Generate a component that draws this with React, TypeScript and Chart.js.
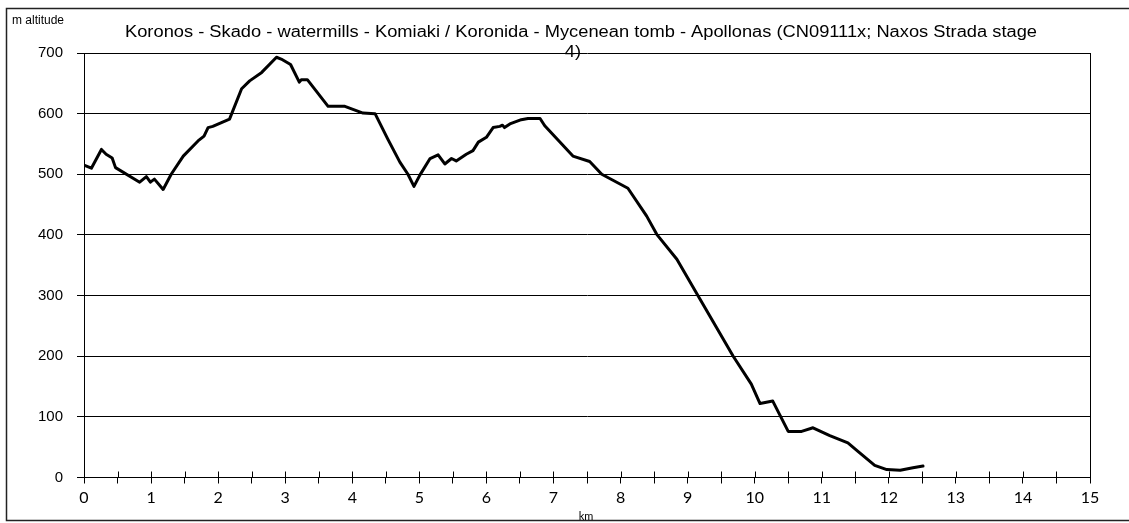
import React, { useEffect, useRef } from "react";
import { Chart, registerables } from "chart.js";

Chart.register(...registerables);

const titleLine1 =
  "Koronos - Skado - watermills - Komiaki / Koronida - Mycenean tomb - Apollonas (CN09111x; Naxos Strada stage";
const titleLine2 = "4)";
const yAxisTitle = "m altitude";
const xAxisTitle = "km";

const distanceKm = [
  0, 0.11, 0.26, 0.33, 0.42, 0.47, 0.83, 0.93, 0.99, 1.05, 1.18, 1.3, 1.48, 1.7, 1.79, 1.85, 1.92,
  2.17, 2.35, 2.47, 2.65, 2.87, 2.94, 3.08, 3.21, 3.24, 3.33, 3.64, 3.89, 4.16, 4.34, 4.53, 4.71,
  4.83, 4.92, 5.01, 5.16, 5.28, 5.38, 5.48, 5.55, 5.7, 5.8, 5.88, 6.0, 6.1, 6.2, 6.24, 6.27, 6.35,
  6.52, 6.62, 6.8, 6.87, 7.29, 7.54, 7.72, 8.11, 8.39, 8.54, 8.84, 9.16, 9.68, 9.95, 10.08, 10.27,
  10.5, 10.7, 10.87, 11.12, 11.39, 11.54, 11.79, 11.97, 12.17, 12.36, 12.51,
];
const altitudeM = [
  515, 510, 541, 533, 527, 511, 487, 496, 487, 492, 475, 500, 530, 555, 563, 577, 579,
  591, 641, 654, 668, 693, 690, 681, 652, 656, 656, 612, 612, 601, 600, 558, 520,
  500, 480, 499, 526, 532, 517, 526, 522, 533, 539, 553, 561, 577, 579, 581, 577, 583,
  590, 592, 592, 580, 530, 521, 500, 477, 431, 401, 360, 299, 200, 154, 122, 126,
  76, 76, 82, 69, 57, 43, 20, 13, 12, 16, 19,
];

const xMin = 0;
const xMax = 15;
const xStep = 0.5;
const yMin = 0;
const yMax = 700;
const yStep = 100;

const W = 1129;
const H = 523;

const decorPlugin = {
  id: "decor",
  afterDraw(chart: any) {
    const ctx = chart.ctx as CanvasRenderingContext2D;
    const area = chart.chartArea;
    const xs = chart.scales.x;
    ctx.save();
    ctx.strokeStyle = "#000";
    ctx.lineWidth = 1;
    xs.ticks.forEach((t: any) => {
      const px = Math.round(xs.getPixelForValue(t.value)) + 0.5;
      ctx.beginPath();
      ctx.moveTo(px, area.bottom);
      ctx.lineTo(px, area.bottom - 6);
      ctx.stroke();
    });
    ctx.beginPath();
    ctx.moveTo(Math.round(area.right) + 0.5, area.top);
    ctx.lineTo(Math.round(area.right) + 0.5, area.bottom);
    ctx.stroke();
    ctx.strokeStyle = "#222";
    ctx.lineWidth = 1.5;
    ctx.beginPath();
    ctx.moveTo(W + 2, 8.5);
    ctx.lineTo(6.5, 8.5);
    ctx.lineTo(6.5, 520.5);
    ctx.lineTo(W + 2, 520.5);
    ctx.stroke();

    ctx.fillStyle = "#000";
    ctx.textBaseline = "middle";
    ctx.textAlign = "center";
    ctx.font = "16px 'Liberation Sans', Arial, sans-serif";
    const w1 = ctx.measureText(titleLine1).width;
    const sx = 912 / w1;
    ctx.save();
    ctx.translate(581, 33);
    ctx.scale(sx, 1);
    ctx.fillText(titleLine1, 0, 0);
    ctx.restore();
    ctx.save();
    ctx.translate(573, 53);
    ctx.scale(sx, 1);
    ctx.fillText(titleLine2, 0, 0);
    ctx.restore();

    ctx.font = "12px 'Liberation Sans', Arial, sans-serif";
    ctx.textAlign = "left";
    ctx.fillText(yAxisTitle, 12, 21);

    ctx.font = "11px Lato, 'Open Sans', sans-serif";
    ctx.textAlign = "center";
    ctx.fillText(xAxisTitle, 586, 516);
    ctx.restore();
  },
};

export default function App() {
  const ref = useRef<HTMLCanvasElement | null>(null);
  useEffect(() => {
    if (!ref.current) return;
    const points = distanceKm.map((x, i) => ({ x, y: altitudeM[i] }));
    const chart = new Chart(ref.current, {
      type: "line",
      data: {
        datasets: [
          {
            data: points,
            borderColor: "#000",
            borderWidth: 3,
            pointRadius: 0,
            tension: 0,
            fill: false,
            borderJoinStyle: "round",
            borderCapStyle: "round",
          },
        ],
      },
      options: {
        animation: false,
        responsive: false,
        devicePixelRatio: 1,
        layout: { padding: { left: 0, top: 53, right: 39, bottom: 0 } },
        plugins: { legend: { display: false }, title: { display: false }, tooltip: { enabled: false } },
        scales: {
          x: {
            type: "linear",
            min: xMin,
            max: xMax,
            afterFit: (s: any) => {
              s.height = 45.5;
            },
            afterBuildTicks: (s: any) => {
              const t = [];
              for (let v = xMin; v <= xMax + 1e-9; v += xStep) t.push({ value: v });
              s.ticks = t;
            },
            ticks: {
              stepSize: xStep,
              autoSkip: false,
              maxRotation: 0,
              padding: 5,
              color: "#000",
              font: { family: "Lato, 'Open Sans', sans-serif", size: 16 },
              callback: (v: any) => (Number.isInteger(v) ? String(v) : ""),
            },
            grid: { drawOnChartArea: false, drawTicks: true, tickLength: 6, color: "#000", lineWidth: 1 },
            border: { display: true, color: "#000", width: 1 },
          },
          y: {
            type: "linear",
            min: yMin,
            max: yMax,
            afterFit: (s: any) => {
              s.width = 84;
            },
            ticks: {
              stepSize: yStep,
              padding: 14,
              color: "#000",
              font: { family: "'Liberation Sans', Arial, sans-serif", size: 15 },
            },
            grid: { color: "#000", lineWidth: 1, tickLength: 7, drawTicks: true },
            border: { display: true, color: "#000", width: 1 },
          },
        },
      },
      plugins: [decorPlugin],
    });
    return () => chart.destroy();
  }, []);
  return (
    <div style={{ position: "fixed", left: 0, top: 0, width: W, height: H, background: "#fff" }}>
      <canvas ref={ref} width={W} height={H} style={{ width: W, height: H, display: "block" }} />
    </div>
  );
}
